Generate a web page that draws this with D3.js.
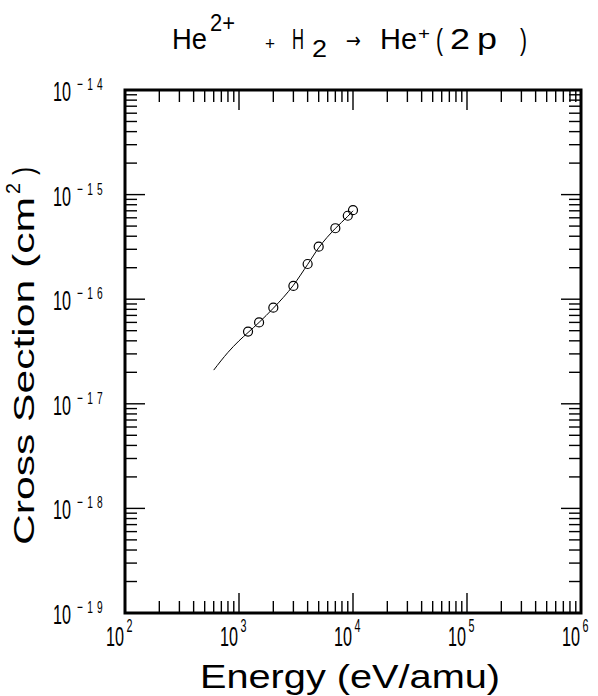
<!DOCTYPE html>
<html>
<head>
<meta charset="utf-8">
<script src="https://cdn.jsdelivr.net/npm/d3@7"></script>
<style>
  html, body { margin: 0; padding: 0; background: #fff; }
  svg { display: block; }
  text { font-family: "Liberation Sans", Arial, sans-serif; fill: #000; }
</style>
</head>
<body>
<svg id="chart" width="598" height="696"></svg>
<script>
// measured points (eV/amu, cm^2)
const energies = [1200, 1500, 2000, 3000, 4000, 5000, 7000, 9000, 10000]
const sigmas = [4.9e-17, 6.0e-17, 8.3e-17, 1.34e-16, 2.17e-16, 3.18e-16, 4.77e-16, 6.28e-16, 7.1e-16]

// recommended fit curve
const fitEnergies = [600, 800, 1000, 1200, 1500, 2000, 3000, 4000, 5000, 7000, 9000, 10000]
const fitSigmas = [2.1e-17, 3.1e-17, 4.0e-17, 4.8e-17, 6.0e-17, 8.2e-17, 1.36e-16, 2.15e-16, 3.1e-16, 4.75e-16, 6.2e-16, 7.0e-16]

const xDecades = [2, 3, 4, 5, 6]
const yDecades = [-19, -18, -17, -16, -15, -14]

const G = { L: 125, T: 90, R: 581, B: 613, MINOR: 12, MAJOR: 20, SX: 0.6 }

const svg = d3.select("#chart")
svg.append("rect").attr("width", 598).attr("height", 696).attr("fill", "#fff")

const x = d3.scaleLog().domain([1e2, 1e6]).range([G.L, G.R])
const y = d3.scaleLog().domain([1e-19, 1e-14]).range([G.B, G.T])

const isMajor = (v) => Math.abs(Math.log10(v) - Math.round(Math.log10(v))) < 1e-9

// ticks on all four sides, pointing inward
const ticks = svg.append("g").attr("stroke", "#000").attr("stroke-width", 1.4)
x.ticks().forEach((v) => {
  const len = isMajor(v) ? G.MAJOR : G.MINOR
  const px = x(v)
  ticks.append("line").attr("x1", px).attr("x2", px).attr("y1", G.B).attr("y2", G.B - len)
  ticks.append("line").attr("x1", px).attr("x2", px).attr("y1", G.T).attr("y2", G.T + len)
})
y.ticks().forEach((v) => {
  const len = isMajor(v) ? G.MAJOR : G.MINOR
  const py = y(v)
  ticks.append("line").attr("x1", G.L).attr("x2", G.L + len).attr("y1", py).attr("y2", py)
  ticks.append("line").attr("x1", G.R).attr("x2", G.R - len).attr("y1", py).attr("y2", py)
})

svg.append("rect")
  .attr("x", G.L).attr("y", G.T)
  .attr("width", G.R - G.L).attr("height", G.B - G.T)
  .attr("fill", "none").attr("stroke", "#000").attr("stroke-width", 3)

// tick labels: "10" plus exponent, squeezed horizontally like the plotter font
const lab = svg.append("g")
xDecades.forEach((d) => {
  const px = x(Math.pow(10, d))
  const t = lab.append("text")
    .attr("transform", `translate(${px - 19},646) scale(${G.SX},1)`)
    .attr("font-size", 27)
  t.append("tspan").text("10")
  t.append("tspan").attr("dx", 4).attr("dy", -14).attr("font-size", 18).text(String(d))
})
yDecades.forEach((d) => {
  const py = y(Math.pow(10, d))
  const t = lab.append("text")
    .attr("transform", `translate(53,${py + 11}) scale(${G.SX},1)`)
    .attr("font-size", 27)
  t.append("tspan").text("10")
  t.append("tspan").attr("dx", 10).attr("dy", -11).attr("font-size", 17)
    .attr("letter-spacing", 7).text(String(d).replace("-", "\u2212"))
})

// title, piece by piece
const title = [
  { t: "He", x: 172, w: 35, y: 49, s: 30 },
  { t: "2+", x: 210, w: 25, y: 31, s: 24 },
  { t: "+", x: 265, w: 10, y: 50, s: 18 },
  { t: "H", x: 292, w: 12, y: 49, s: 30 },
  { t: "2", x: 312, w: 15, y: 57, s: 24 },
  { t: "\u2192", x: 346, w: 15, y: 48, s: 22, f: "DejaVu Sans" },
  { t: "He", x: 380, w: 37, y: 49, s: 30 },
  { t: "+", x: 418, w: 12, y: 39, s: 16 },
  { t: "(", x: 436, w: 7, y: 50, s: 30 },
  { t: "2", x: 450, w: 20, y: 49, s: 30 },
  { t: "p", x: 477, w: 20, y: 49, s: 30 },
  { t: ")", x: 520, w: 7, y: 50, s: 30 }
]
title.forEach((p) => {
  const t = svg.append("text").attr("x", p.x).attr("y", p.y).attr("font-size", p.s)
    .attr("textLength", p.w).attr("lengthAdjust", "spacingAndGlyphs").text(p.t)
  if (p.f) t.style("font-family", p.f)
})

// axis titles
svg.append("text").attr("x", 200).attr("y", 688).attr("font-size", 33)
  .attr("textLength", 300).attr("lengthAdjust", "spacingAndGlyphs").text("Energy (eV/amu)")

const yt = svg.append("g").attr("transform", "translate(34,545) rotate(-90)")
yt.append("text").attr("x", 0).attr("y", 0).attr("font-size", 30)
  .attr("textLength", 348).attr("lengthAdjust", "spacingAndGlyphs").text("Cross Section (cm")
yt.append("text").attr("x", 351).attr("y", -14).attr("font-size", 20)
  .attr("textLength", 11).attr("lengthAdjust", "spacingAndGlyphs").text("2")
yt.append("text").attr("x", 370).attr("y", 0).attr("font-size", 30)
  .attr("textLength", 8).attr("lengthAdjust", "spacingAndGlyphs").text(")")

// fit curve
const line = d3.line()
  .x((d) => x(d[0]))
  .y((d) => y(d[1]))
  .curve(d3.curveMonotoneX)
svg.append("path")
  .datum(d3.zip(fitEnergies, fitSigmas))
  .attr("d", line)
  .attr("fill", "none").attr("stroke", "#000").attr("stroke-width", 1)

// data points
svg.append("g").selectAll("circle")
  .data(d3.zip(energies, sigmas))
  .join("circle")
  .attr("cx", (d) => x(d[0]))
  .attr("cy", (d) => y(d[1]))
  .attr("r", 4.5)
  .attr("fill", "none").attr("stroke", "#000").attr("stroke-width", 1.2)
</script>
</body>
</html>
